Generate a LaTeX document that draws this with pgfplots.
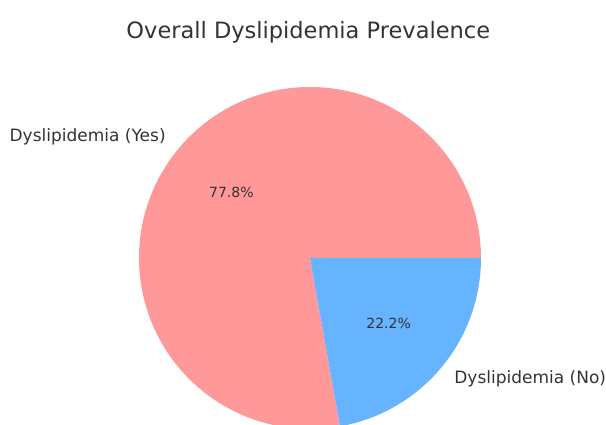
\documentclass[border=0pt]{standalone}
\usepackage{fontspec}
\setmainfont{DejaVu Sans}
\usepackage{pgfplots}
\usepackage{pgfplotstable}
\pgfplotsset{compat=1.18}
\definecolor{yescol}{HTML}{FF9999}
\definecolor{nocol}{HTML}{66B3FF}
\definecolor{txt}{HTML}{333333}
\pgfplotstableread{
label value
Yes 77.8
No 22.2
}\pietable
\begin{document}
\begin{tikzpicture}
\useasboundingbox (0,0) rectangle (606pt,425pt);
\clip (0,0) rectangle (606pt,425pt);
\pgfplotstablegetelem{0}{value}\of\pietable \let\vyes\pgfplotsretval
\pgfplotstablegetelem{1}{value}\of\pietable \let\vno\pgfplotsretval
\pgfmathsetmacro{\ayes}{3.6*\vyes}
\pgfmathsetmacro{\myes}{\ayes/2}
\pgfmathsetmacro{\mno}{(\ayes+360)/2}
\begin{axis}[hide axis, x=171pt, y=171pt, at={(0,0)}, anchor=south west,
  xmin=-1.81287, xmax=1.73099, ymin=-0.97661, ymax=1.50877, clip=true,
  /pgf/number format/assume math mode=true]
\fill[yescol] (axis cs:0,0) -- (axis cs:1,0) arc[start angle=0, end angle=\ayes, radius=171pt] -- cycle;
\fill[nocol] (axis cs:0,0) -- (axis cs:{cos(\ayes)},{sin(\ayes)}) arc[start angle=\ayes, end angle=360, radius=171pt] -- cycle;
\node[anchor=east, font=\fontsize{17}{19}\selectfont, text=txt, inner sep=0pt] at (axis cs:{1.1*cos(\myes)},{1.1*sin(\myes)}) {Dyslipidemia (Yes)};
\node[anchor=west, font=\fontsize{17}{19}\selectfont, text=txt, inner sep=0pt] at (axis cs:{1.1*cos(\mno)},{1.1*sin(\mno)}) {Dyslipidemia (No)};
\node[font=\fontsize{14}{16}\selectfont, text=txt, inner sep=0pt] at (axis cs:{0.6*cos(\myes)},{0.6*sin(\myes)}) {\pgfmathprintnumber[fixed,precision=1,fixed zerofill,assume math mode=true]{\vyes}\%};
\node[font=\fontsize{14}{16}\selectfont, text=txt, inner sep=0pt] at (axis cs:{0.6*cos(\mno)},{0.6*sin(\mno)}) {\pgfmathprintnumber[fixed,precision=1,fixed zerofill,assume math mode=true]{\vno}\%};
\node[font=\fontsize{22.5}{26}\selectfont, text=txt, inner sep=0pt, anchor=base] at (axis cs:-0.01,1.285) {Overall Dyslipidemia Prevalence};
\end{axis}
\end{tikzpicture}
\end{document}
